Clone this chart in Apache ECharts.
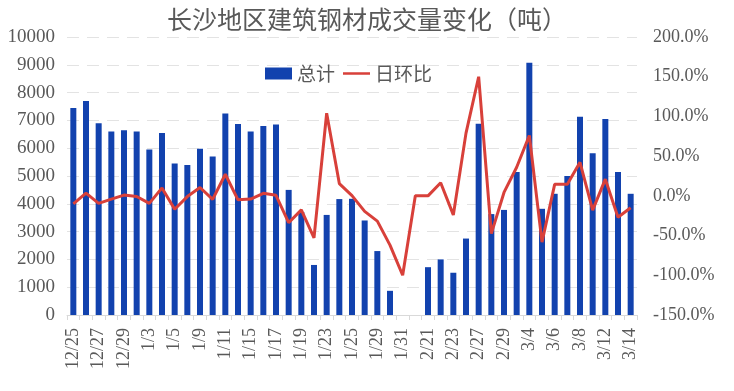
<!DOCTYPE html>
<html>
<head>
<meta charset="utf-8">
<script src="https://cdn.jsdelivr.net/npm/echarts@6/dist/echarts.min.js"></script>
<style>html,body{margin:0;padding:0;background:#fff}#c{width:734px;height:391px}</style>
</head>
<body>
<div id="c"></div>
<script>
const categories = ['12/25','12/26','12/27','12/28','12/29','1/2','1/3','1/4','1/5','1/8','1/9','1/10','1/11','1/12','1/15','1/16','1/17','1/18','1/19','1/22','1/23','1/24','1/25','1/26','1/29','1/30','1/31','2/1','2/21','2/22','2/23','2/26','2/27','2/28','2/29','3/1','3/4','3/5','3/6','3/7','3/8','3/11','3/12','3/13','3/14'];
const totals = [7450,7700,6900,6600,6650,6600,5950,6550,5450,5400,5980,5700,7250,6870,6600,6800,6850,4500,3700,1800,3600,4170,4180,3400,2300,870,0,0,1720,2000,1520,2750,6880,3630,3780,5140,9070,3820,4360,5000,7130,5820,7050,5140,4360];
const dayChange = [-10,3.4,-9.5,-4.2,1.0,-0.8,-9.5,10,-16.8,-0.9,10.5,-4.5,27.2,-5,-4,3.2,0.7,-33.8,-17.6,-53,104,15.5,0.3,-19.5,-31.8,-62,-100,0,0,16.5,-24,79,150,-47.5,4.3,36,76,-58.2,14.5,14.7,42.3,-18,21,-27,-15];
const leftTicks = {min:0, max:10000, interval:1000};
const rightTicks = {min:-150, max:200, interval:50};

const chart = echarts.init(document.getElementById('c'));
const txt = '#595959';
const numFont = '"Liberation Serif", "Noto Sans CJK SC", serif';
const lineIcon = 'path://M0,0L0,0.01M0,5L30,5L30,8L0,8ZM0,13L0,13.01';
chart.setOption({
  animation:false,
  title:{text:'长沙地区建筑钢材成交量变化（吨）', left:362, top:2, textAlign:'center',
    textStyle:{fontFamily:'"Noto Sans CJK SC", sans-serif', fontSize:25, fontWeight:'normal', color:txt}},
  legend:{left:260, top:59, itemWidth:27, itemHeight:12, itemGap:8,
    textStyle:{fontFamily:'"Noto Sans CJK SC", sans-serif', fontSize:19, color:txt},
    data:[{name:'总计', icon:'rect'}, {name:'日环比', icon:lineIcon}]},
  grid:{left:67, right:97, top:37, bottom:76, containLabel:false},
  xAxis:{type:'category', data:categories,
    axisLine:{lineStyle:{color:'#D9D9D9'}},
    axisTick:{show:true, interval:0, length:5, lineStyle:{color:'#D9D9D9'}},
    axisLabel:{interval:1, rotate:90, margin:13, color:txt, fontFamily:numFont, fontSize:18}},
  yAxis:[
    {type:'value', min:leftTicks.min, max:leftTicks.max, interval:leftTicks.interval,
      axisLine:{show:false}, axisTick:{show:false},
      axisLabel:{margin:12, color:txt, fontFamily:numFont, fontSize:19, formatter:v=>String(v)},
      splitLine:{lineStyle:{color:'#E3E3E3', type:[12,8], width:1}}},
    {type:'value', min:rightTicks.min, max:rightTicks.max, interval:rightTicks.interval,
      axisLine:{show:false}, axisTick:{show:false}, splitLine:{show:false},
      axisLabel:{margin:16, color:txt, fontFamily:numFont, fontSize:18,
        formatter:v=>v.toFixed(1)+'%'}}
  ],
  series:[
    {name:'总计', type:'bar', data:totals, barWidth:6, itemStyle:{color:'#1242AE'}},
    {name:'日环比', type:'line', yAxisIndex:1, data:dayChange, symbol:'none',
      lineStyle:{color:'#D8403A', width:3}, itemStyle:{color:'#D8403A'}}
  ]
});
</script>
</body>
</html>
